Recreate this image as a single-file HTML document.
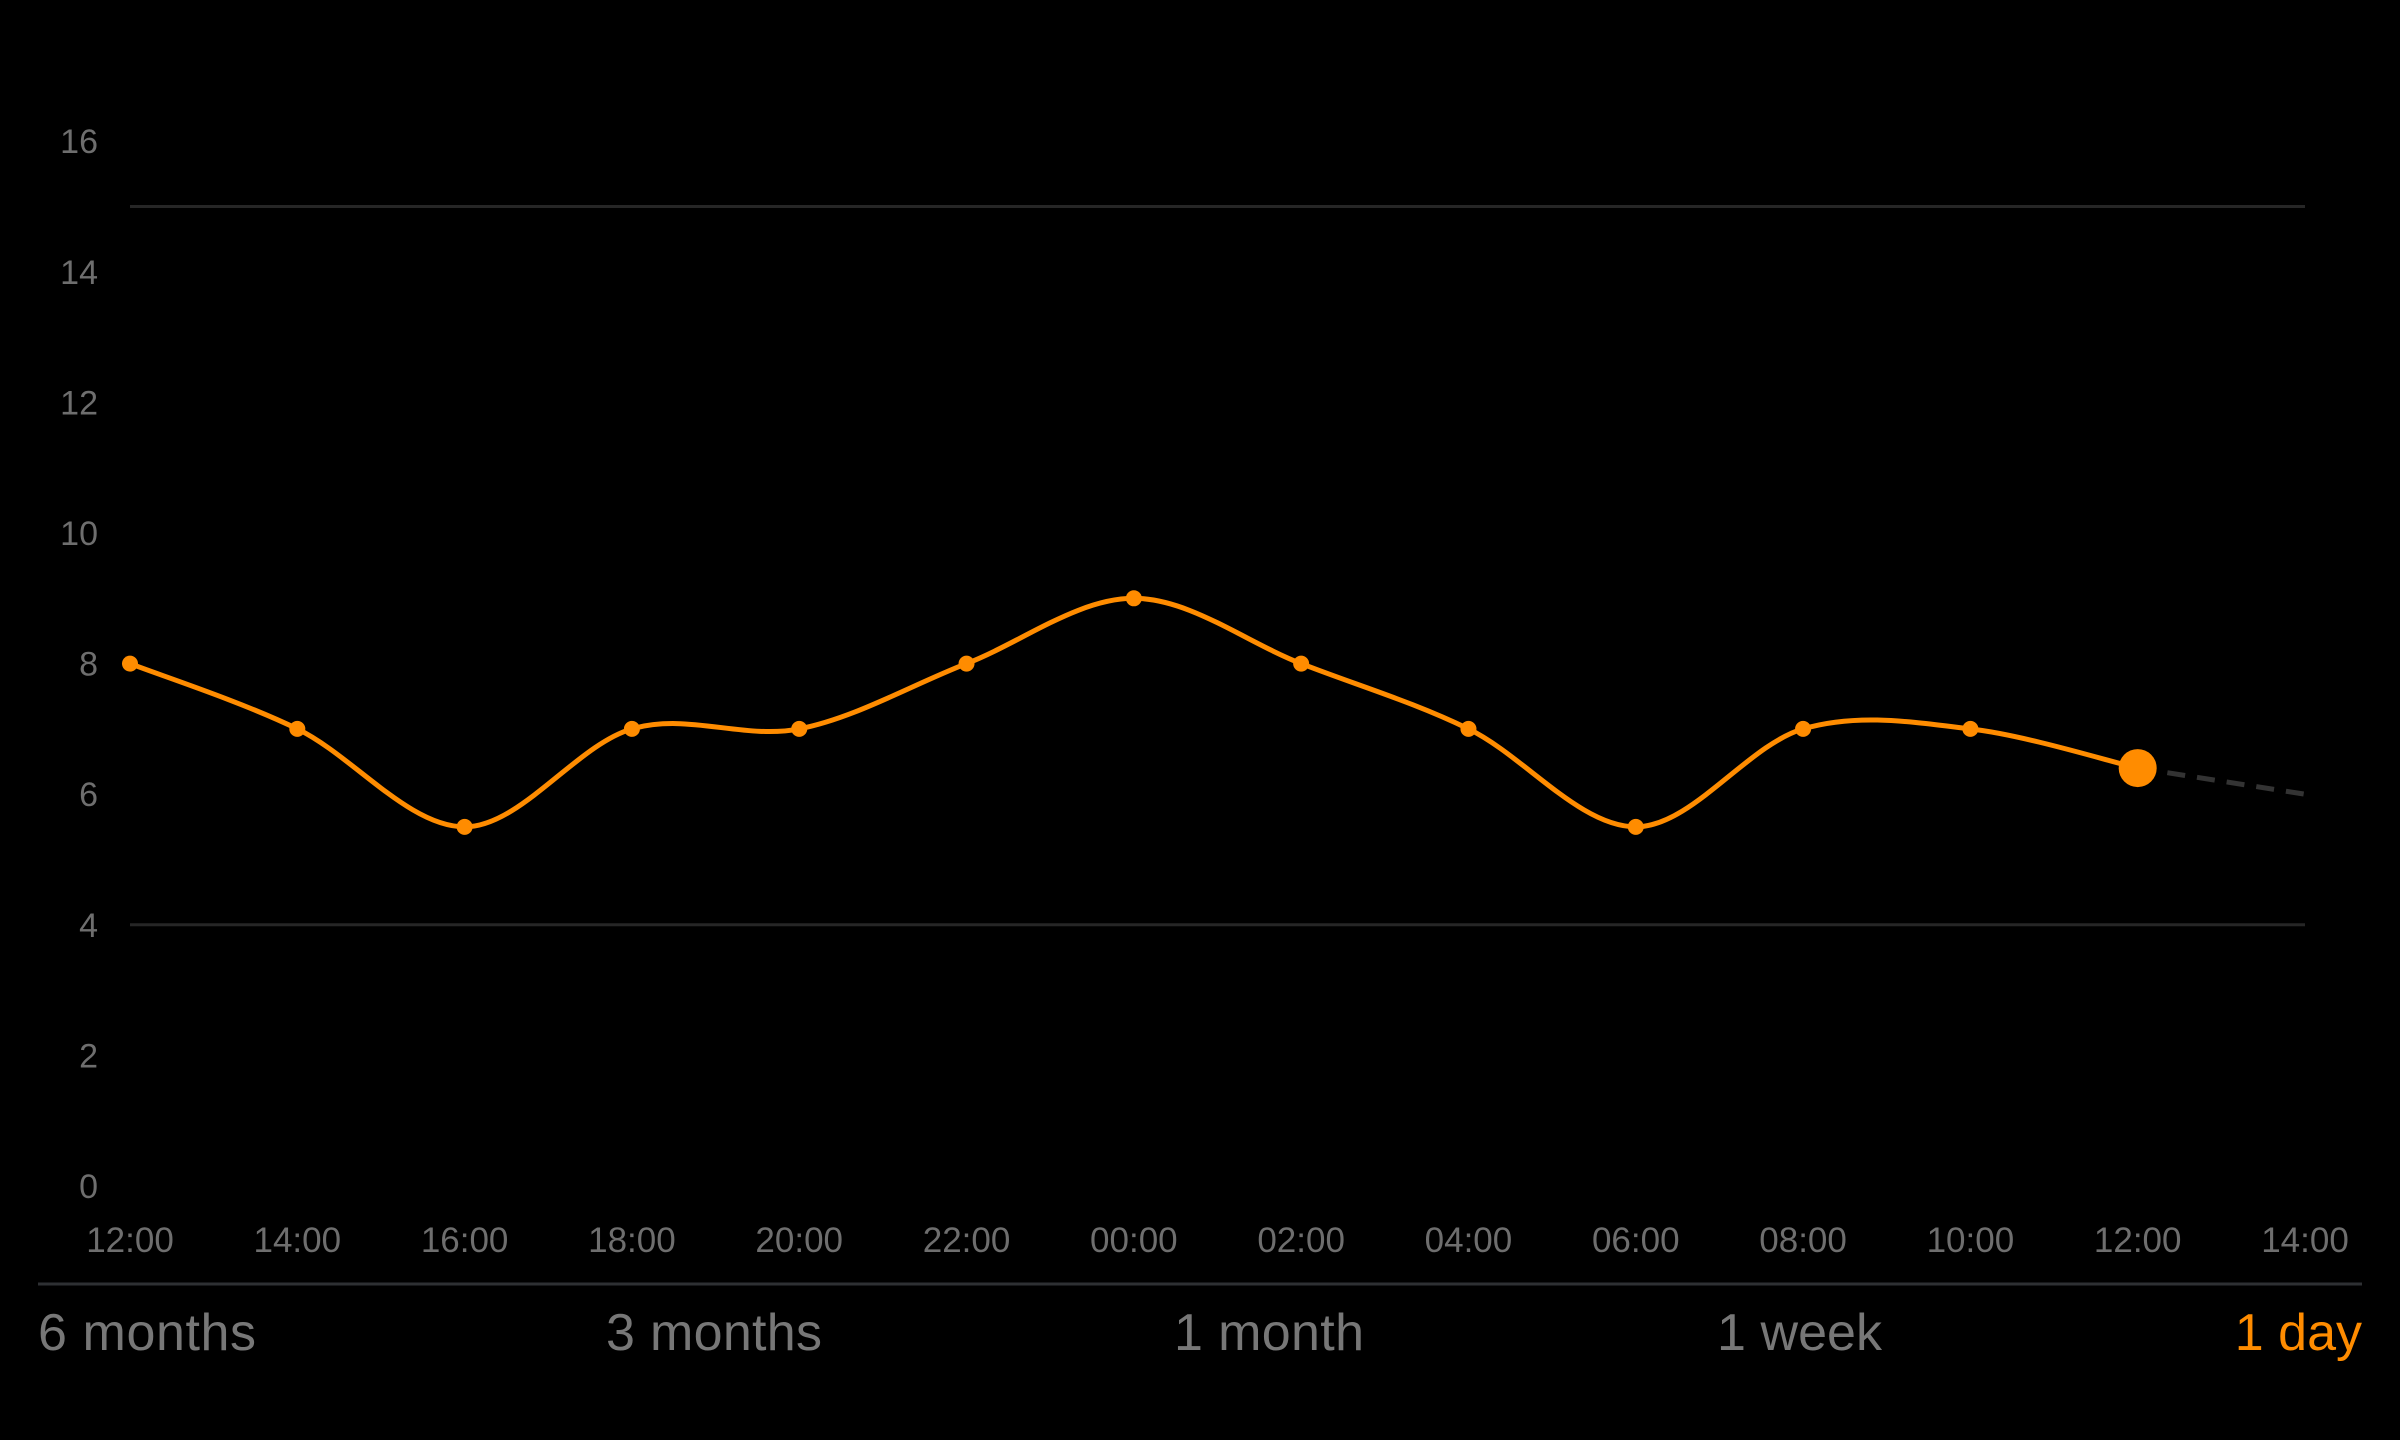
<!DOCTYPE html>
<html><head><meta charset="utf-8"><style>
html,body{margin:0;padding:0;background:#000;width:2400px;height:1440px;overflow:hidden}
svg{display:block}
text{font-family:"Liberation Sans",sans-serif}
</style></head><body>
<svg id="chart" width="2400" height="1440" xmlns="http://www.w3.org/2000/svg">
<g id="grid"></g><g id="yaxis"></g><g id="xaxis"></g><g id="series"></g>
<line x1="38" y1="1284" x2="2362" y2="1284" stroke="#2e3033" stroke-width="3"/>
<g font-size="52" fill="#777">
<text x="38" y="1350" textLength="218">6 months</text>
<text x="606" y="1350" textLength="216">3 months</text>
<text x="1174" y="1350" textLength="190">1 month</text>
<text x="1717" y="1350" textLength="165">1 week</text>
<text x="2362" y="1350" text-anchor="end" fill="#ff8c00">1 day</text>
</g>
</svg>
<script>
const categories=["12:00","14:00","16:00","18:00","20:00","22:00","00:00","02:00","04:00","06:00","08:00","10:00","12:00","14:00"];
const values=[8,7,5.5,7,7,8,9,8,7,5.5,7,7,6.4];
const forecast=[6.4,6.0];
const yTicks=[0,2,4,6,8,10,12,14,16];
const gridValues=[15,4];
const NS="http://www.w3.org/2000/svg";
const x=i=>130+i*(2305-130)/13;
const y=v=>1186-v*65.3;
function mk(t,a,p){const e=document.createElementNS(NS,t);for(const k in a)e.setAttribute(k,a[k]);p.appendChild(e);return e;}
const grid=document.getElementById('grid');
gridValues.forEach(v=>{
 const l=mk('line',{x1:x(0),x2:x(13),y1:y(v),y2:y(v),stroke:'#262626','stroke-width':3},grid);
 
 
});
const ya=document.getElementById('yaxis');
yTicks.forEach(v=>{
 const t=mk('text',{x:98,y:y(v)+12,'text-anchor':'end','font-size':34,fill:'#6e6e6e'},ya);
 t.textContent=v;
 
 
});
const xa=document.getElementById('xaxis');
categories.forEach((c,i)=>{
 const t=mk('text',{x:x(i),y:1252,'text-anchor':'middle','font-size':35,fill:'#6e6e6e'},xa);
 t.textContent=c;
 
 
});
const s=document.getElementById('series');
const pts=values.map((v,i)=>[x(i),y(v)]);
let d='M'+pts[0][0]+','+pts[0][1];
for(let i=0;i<pts.length-1;i++){
 const p0=pts[Math.max(0,i-1)],p1=pts[i],p2=pts[i+1],p3=pts[Math.min(pts.length-1,i+2)];
 const c1=[p1[0]+(p2[0]-p0[0])/6,p1[1]+(p2[1]-p0[1])/6];
 const c2=[p2[0]-(p3[0]-p1[0])/6,p2[1]-(p3[1]-p1[1])/6];
 d+=` C${c1[0]},${c1[1]} ${c2[0]},${c2[1]} ${p2[0]},${p2[1]}`;
}
const fl=mk('line',{x1:x(12),y1:y(forecast[0]),x2:x(13),y2:y(forecast[1]),stroke:'#333','stroke-width':5,'stroke-dasharray':'18 12'},s);


const path=mk('path',{d:d,fill:'none',stroke:'#ff8c00','stroke-width':5},s);


pts.forEach((p,i)=>{
 const last=i===pts.length-1;
 const c=mk('circle',{cx:p[0],cy:p[1],r:last?19:8,fill:'#ff8c00'},s);
 
 
});
</script>
</body></html>
